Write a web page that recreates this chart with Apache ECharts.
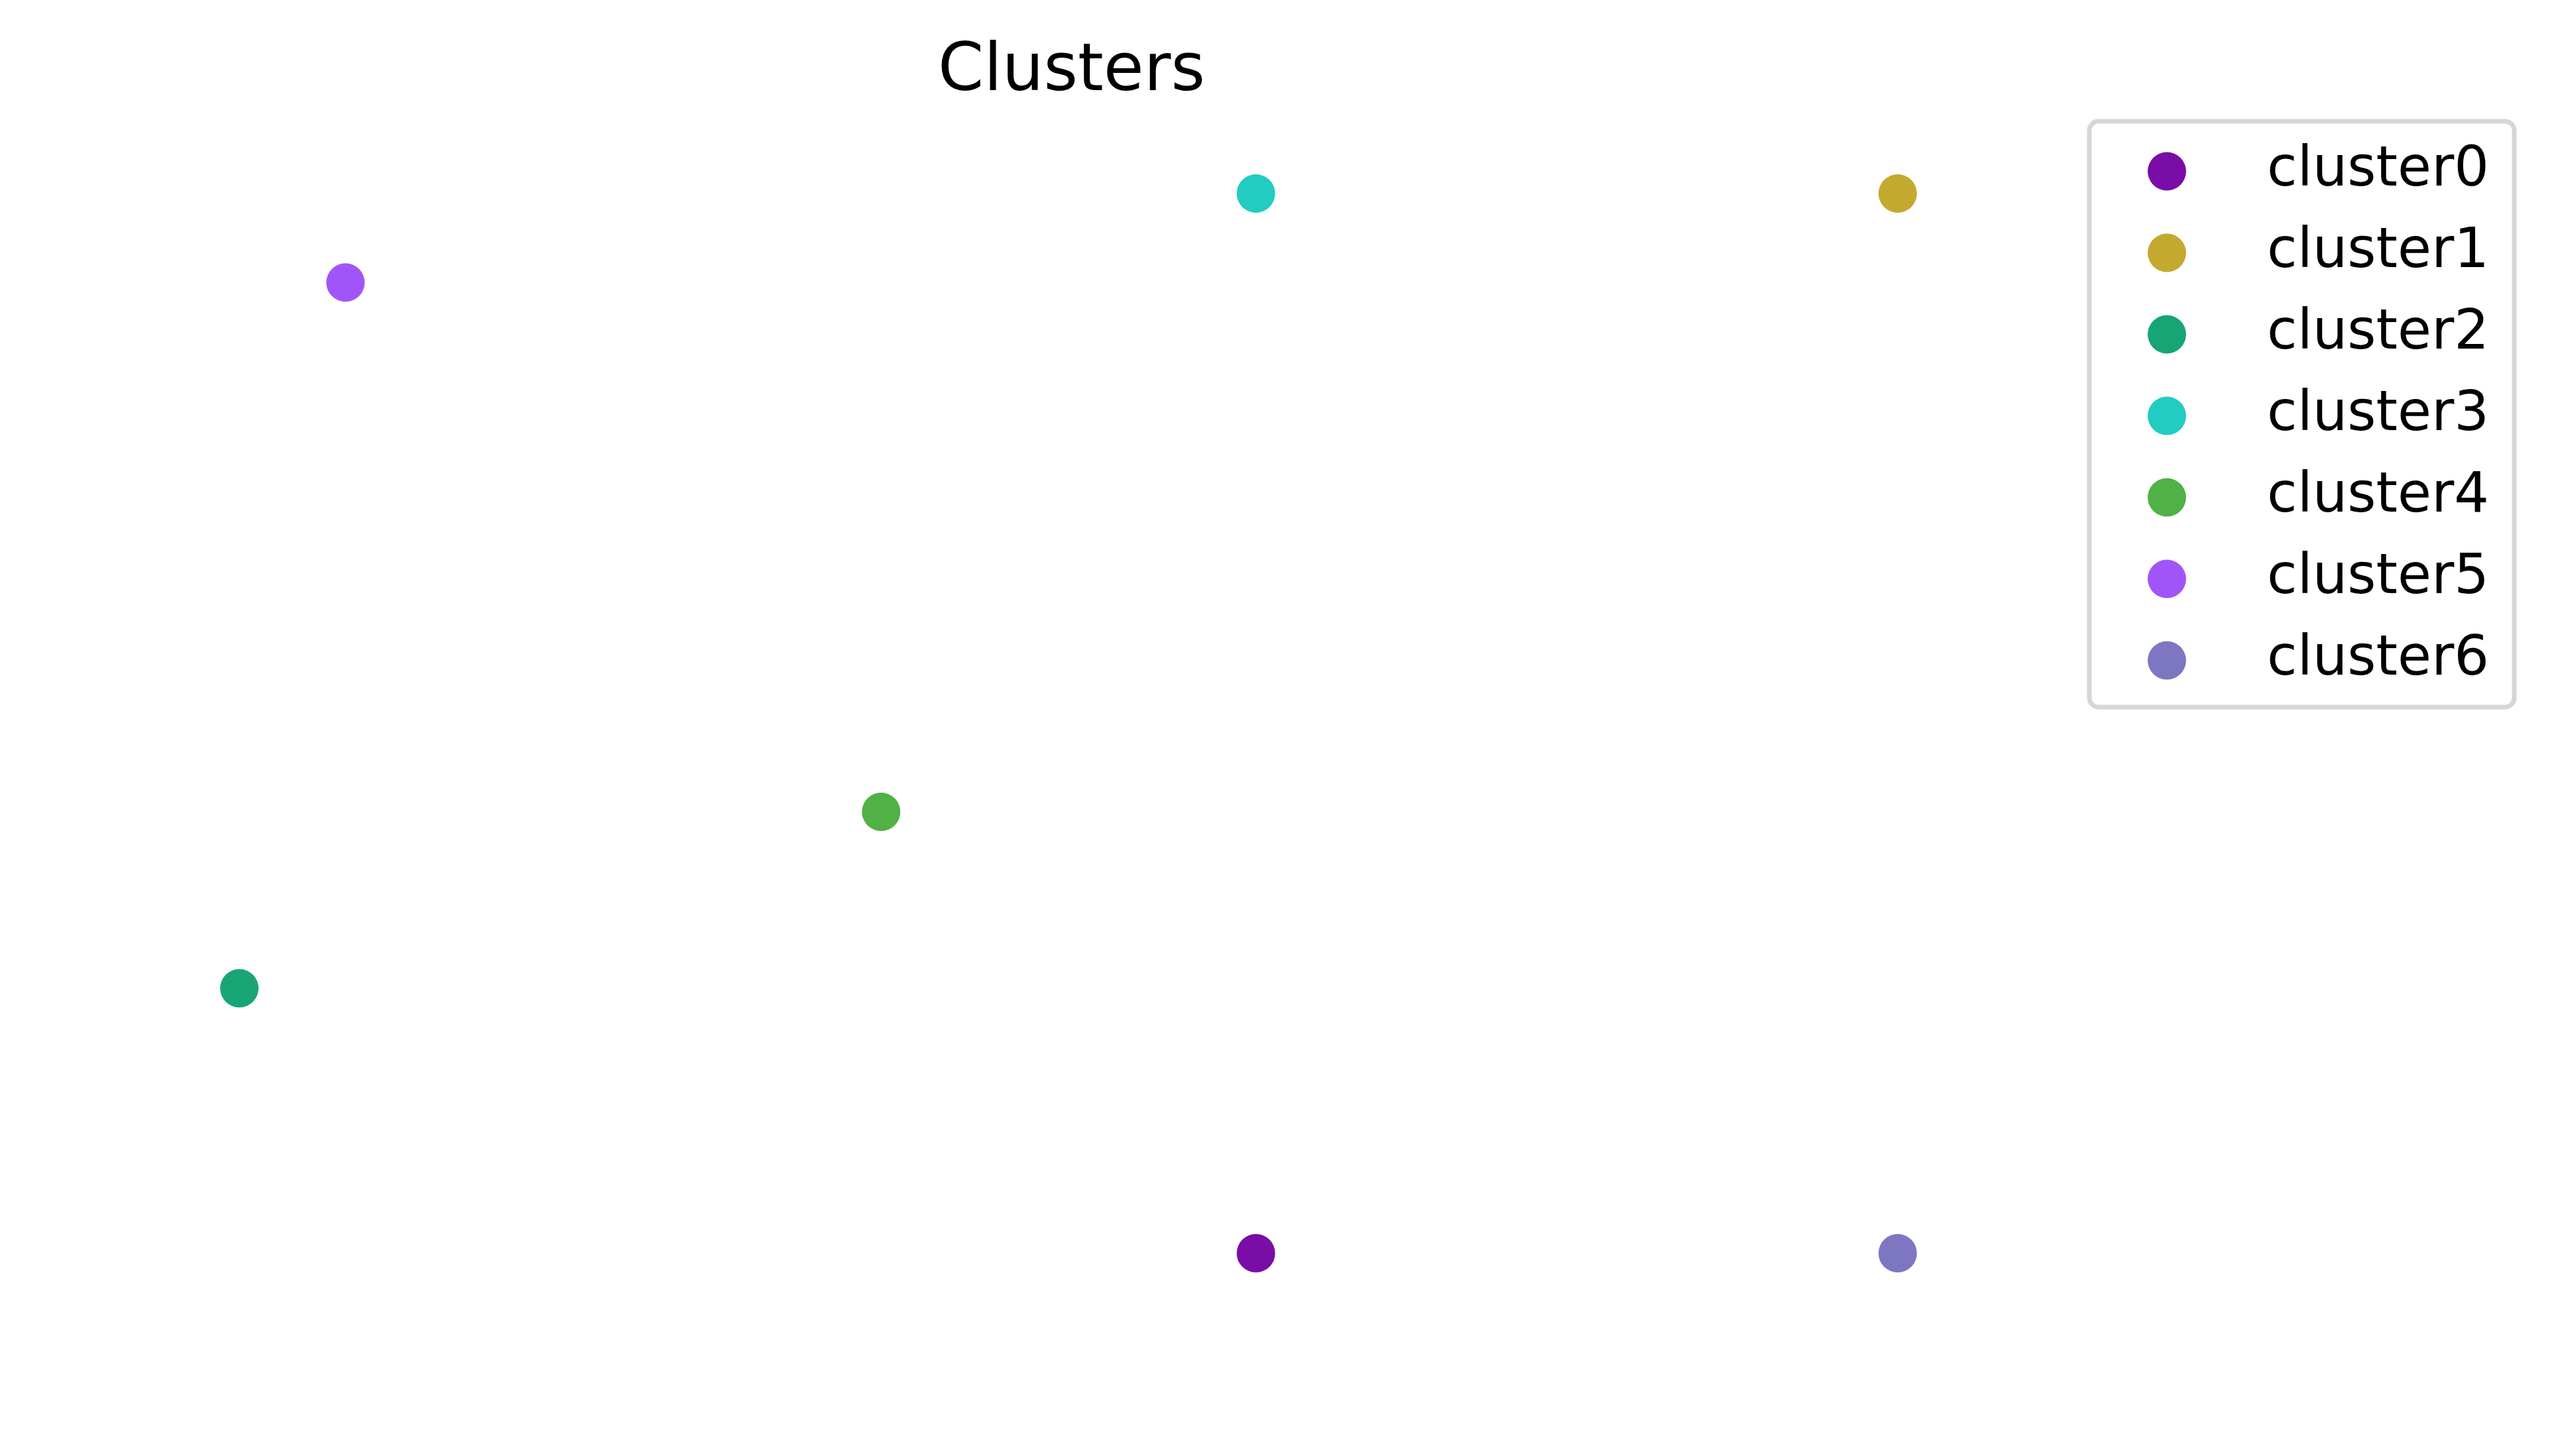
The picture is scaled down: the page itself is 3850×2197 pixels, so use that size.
<!DOCTYPE html>
<html>
<head>
<meta charset="utf-8">
<script src="https://cdn.jsdelivr.net/npm/echarts@6/dist/echarts.min.js"></script>
<style>
html,body{margin:0;padding:0;background:#fff;}
#chart{width:3850px;height:2197px;}
</style>
</head>
<body>
<div id="chart"></div>
<script>
const clusterNames = ['cluster0','cluster1','cluster2','cluster3','cluster4','cluster5','cluster6'];
const xValues = [0.613, 1.0, 0.0, 0.613, 0.387, 0.064, 1.0];
const yValues = [0.0, 1.0, 0.250, 1.0, 0.4165, 0.916, 0.0];
const clusterColors = ['#7a0ca8','#c4a92f','#18a574','#22ccc1','#51b144','#a155f9','#7d77c2'];

const FONT = 'DejaVu Sans';
const series = clusterNames.map((name, i) => ({
  name: name,
  type: 'scatter',
  symbol: 'circle',
  symbolSize: 58,
  itemStyle: { color: clusterColors[i], opacity: 1 },
  emphasis: { disabled: true },
  data: [[xValues[i], yValues[i]]]
}));

const chart = echarts.init(document.getElementById('chart'), null, { renderer: 'canvas' });
chart.setOption({
  animation: false,
  backgroundColor: '#ffffff',
  color: clusterColors,
  title: {
    text: 'Clusters',
    left: 1415,
    top: 61,
    padding: 0,
    textStyle: { fontFamily: FONT, fontSize: 99, fontWeight: 'normal', color: '#000000' }
  },
  grid: { left: 236, right: 862, top: 212, bottom: 226, containLabel: false },
  xAxis: { type: 'value', min: -0.05, max: 1.05, show: false, splitLine: { show: false } },
  yAxis: { type: 'value', min: -0.05, max: 1.05, show: false, splitLine: { show: false } },
  legend: {
    orient: 'vertical',
    left: 3152,
    top: 183,
    padding: [34, 38, 29, 88],
    itemGap: 40,
    itemWidth: 58,
    itemHeight: 58,
    icon: 'circle',
    borderColor: '#d6d6d6',
    borderWidth: 7,
    borderRadius: 14,
    backgroundColor: '#ffffff',
    selectedMode: false,
    data: clusterNames,
    textStyle: { fontFamily: FONT, fontSize: 83, lineHeight: 82, color: '#000000', padding: [0, 0, 0, 117] }
  },
  series: series
});
</script>
</body>
</html>
